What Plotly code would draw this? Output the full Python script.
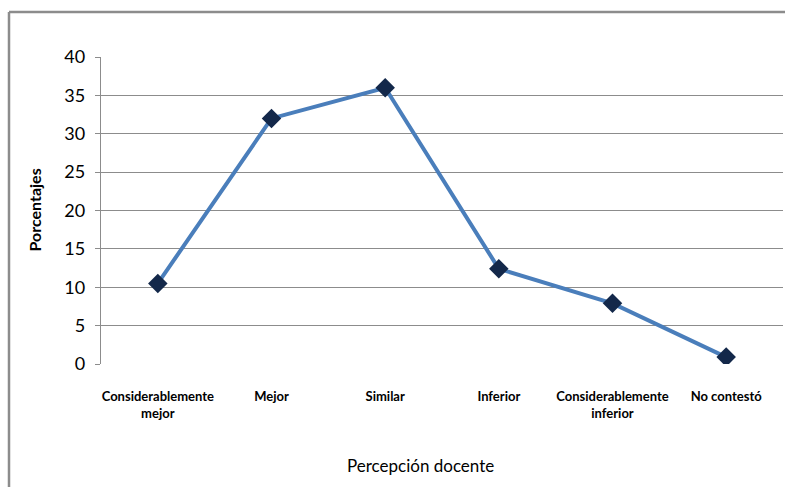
import plotly.graph_objects as go

categories = ["Considerablemente<br>mejor", "Mejor", "Similar", "Inferior",
              "Considerablemente<br>inferior", "No contestó"]
values = [10.5, 32, 36, 12.4, 7.9, 0.9]
y_ticks = [0, 5, 10, 15, 20, 25, 30, 35, 40]

W, H = 785, 487
L, R, T, B = 101, 2, 57, 123
pw, ph = W - L - R, H - T - B

fig = go.Figure()
fig.add_trace(go.Scatter(
    x=categories, y=values, mode="lines+markers",
    line=dict(color="#4A7EBB", width=4),
    marker=dict(symbol="diamond", size=15, color="#13284A",
                line=dict(color="#13284A", width=0)),
    showlegend=False,
))

fig.update_layout(
    width=W, height=H,
    margin=dict(l=L, r=R, t=T, b=B),
    paper_bgcolor="white", plot_bgcolor="white",
    font=dict(family="Lato, Open Sans, sans-serif", color="#000000"),
    xaxis=dict(
        type="category", range=[-0.5, 5.5],
        showgrid=False, showline=False, ticks="",
        tickfont=dict(size=13, family="Lato", weight="bold"),
        ticklabelstandoff=23,
    ),
    yaxis=dict(
        range=[0, 40], tickvals=y_ticks,
        showgrid=True, gridcolor="#8C8C8C", gridwidth=1.4,
        showline=True, linecolor="#8C8C8C", linewidth=1.4,
        ticks="outside", ticklen=5, tickcolor="#8C8C8C",
        tickfont=dict(size=18, family="Lato"),
        ticklabelstandoff=6,
        zeroline=False,
    ),
    annotations=[
        dict(text="Percepción docente", xref="paper", yref="paper",
             x=(420 - L) / pw, y=-(465 - (T + ph)) / ph,
             xanchor="center", yanchor="middle", showarrow=False,
             font=dict(size=17, family="Lato")),
        dict(text="Porcentajes", xref="paper", yref="paper",
             x=(34 - L) / pw, y=0.5, textangle=-90,
             xanchor="center", yanchor="middle", showarrow=False,
             font=dict(size=16, family="Lato", weight="bold")),
    ],
)

# outer chart border (left and top edges visible)
bx = (9 - L) / pw
by = 1 + (T - 12) / ph
fig.add_shape(type="line", xref="paper", yref="paper",
              x0=bx, x1=bx, y0=by, y1=-1, line=dict(color="#8C8C8C", width=2.5))
fig.add_shape(type="line", xref="paper", yref="paper",
              x0=bx, x1=1.5, y0=by, y1=by, line=dict(color="#8C8C8C", width=2.5))

fig.write_html("out.html", config={"displayModeBar": False},
               post_script="document.body.style.margin='0';document.body.style.overflow='hidden';")
